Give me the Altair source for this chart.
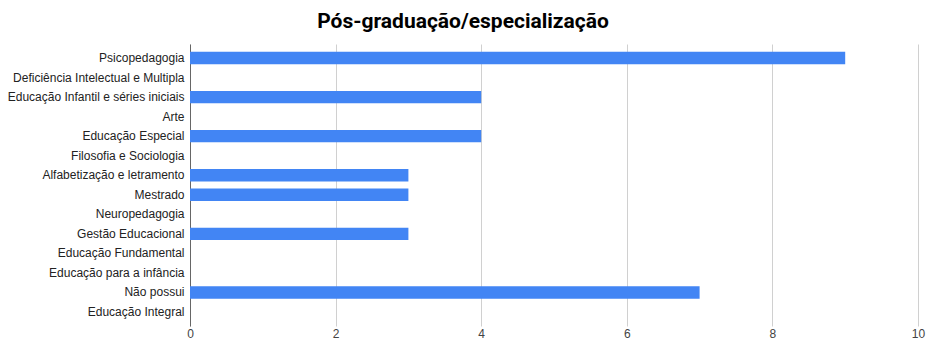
import altair as alt
import pandas as pd

categories = [
    "Psicopedagogia",
    "Deficiência Intelectual e Multipla",
    "Educação Infantil e séries iniciais",
    "Arte",
    "Educação Especial",
    "Filosofia e Sociologia",
    "Alfabetização e letramento",
    "Mestrado",
    "Neuropedagogia",
    "Gestão Educacional",
    "Educação Fundamental",
    "Educação para a infância",
    "Não possui",
    "Educação Integral",
]
values = [9, 0, 4, 0, 4, 0, 3, 3, 0, 3, 0, 0, 7, 0]
x_ticks = [0, 2, 4, 6, 8, 10]

df = pd.DataFrame({"categoria": categories, "valor": values})

chart = (
    alt.Chart(df)
    .mark_bar(color="#4285F4")
    .encode(
        y=alt.Y(
            "categoria:N",
            sort=categories,
            title=None,
            scale=alt.Scale(paddingInner=0.37, paddingOuter=0.4),
            axis=alt.Axis(
                ticks=False,
                domain=True,
                domainColor="#666666",
                domainWidth=1,
                labelFont="Liberation Sans",
                labelFontSize=12,
                labelColor="#222222",
                labelPadding=6,
                labelLimit=300,
                grid=False,
            ),
        ),
        x=alt.X(
            "valor:Q",
            title=None,
            scale=alt.Scale(domain=[0, 10], nice=False),
            axis=alt.Axis(
                values=x_ticks,
                domain=False,
                ticks=False,
                grid=True,
                gridColor="#d0d0d0",
                labelFont="Liberation Sans",
                labelFontSize=12,
                labelColor="#444444",
                labelPadding=2,
                labelFlush=False,
                format="d",
            ),
        ),
    )
    .properties(
        width=728,
        height=282,
        title=alt.TitleParams(
            "Pós-graduação/especialização",
            font="Roboto",
            fontSize=21,
            fontWeight="bold",
            color="#000000",
            anchor="middle",
            dx=-91,
            offset=12,
        ),
        autosize=alt.AutoSizeParams(type="none"),
        padding={"left": 190, "top": 44, "right": 8, "bottom": 15},
    )
    .configure_view(stroke=None)
)

chart.save("out.html", embed_options={"renderer": "svg", "actions": False})
